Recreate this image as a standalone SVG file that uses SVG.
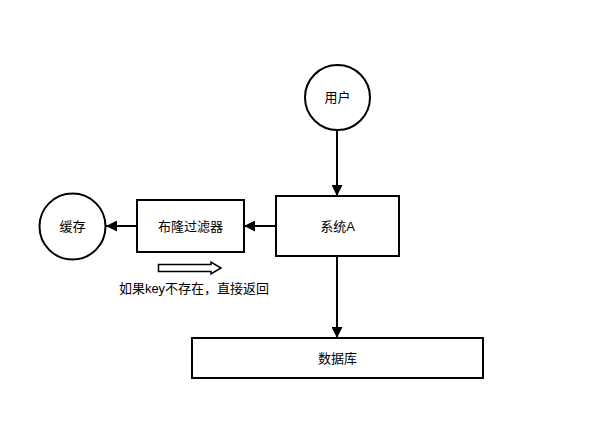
<svg xmlns="http://www.w3.org/2000/svg" width="591" height="424" viewBox="0 0 591 424">
<style>
.n{fill:#fff;stroke:#000;stroke-width:2}
.t{font-family:"Liberation Sans","Noto Sans CJK SC",sans-serif;font-size:13px;fill:#000;text-anchor:middle;dominant-baseline:central}
.c{stroke:#000;stroke-width:2;fill:none}
</style>
<defs>
<marker id="ah" viewBox="0 0 10 10" refX="10" refY="5" markerWidth="5.5" markerHeight="5.5" orient="auto" markerUnits="strokeWidth">
<path d="M0,0 L10,5 L0,10 z" fill="#000"/>
</marker>
</defs>
<rect width="591" height="424" fill="#fff"/>
<g id="connectors">
<line class="c" x1="337" y1="131" x2="337" y2="196" marker-end="url(#ah)"/>
<line class="c" x1="276" y1="226" x2="244" y2="226" marker-end="url(#ah)"/>
<line class="c" x1="137" y1="226" x2="106" y2="226" marker-end="url(#ah)"/>
<line class="c" x1="337" y1="256" x2="337" y2="338" marker-end="url(#ah)"/>
</g>
<g id="user"><circle class="n" cx="337.5" cy="97.5" r="32.5"/><text class="t" x="337.5" y="97.5">用户</text></g>
<g id="systemA"><rect class="n" x="276" y="196" width="123" height="60"/><text class="t" x="337.5" y="226">系统A</text></g>
<g id="bloom"><rect class="n" x="137" y="200" width="107" height="52"/><text class="t" x="190.5" y="226">布隆过滤器</text></g>
<g id="cache"><circle class="n" cx="72.5" cy="226.5" r="33"/><text class="t" x="72.5" y="226.5">缓存</text></g>
<g id="database"><rect class="n" x="192" y="338" width="291" height="40"/><text class="t" x="337.5" y="358">数据库</text></g>
<g id="note">
<path d="M158.5,264.5 H211 V262 L221,268 L211,274 V271.5 H158.5 Z" fill="#fff" stroke="#000" stroke-width="1.5"/>
<text class="t" x="194" y="288">如果key不存在，直接返回</text>
</g>
</svg>
